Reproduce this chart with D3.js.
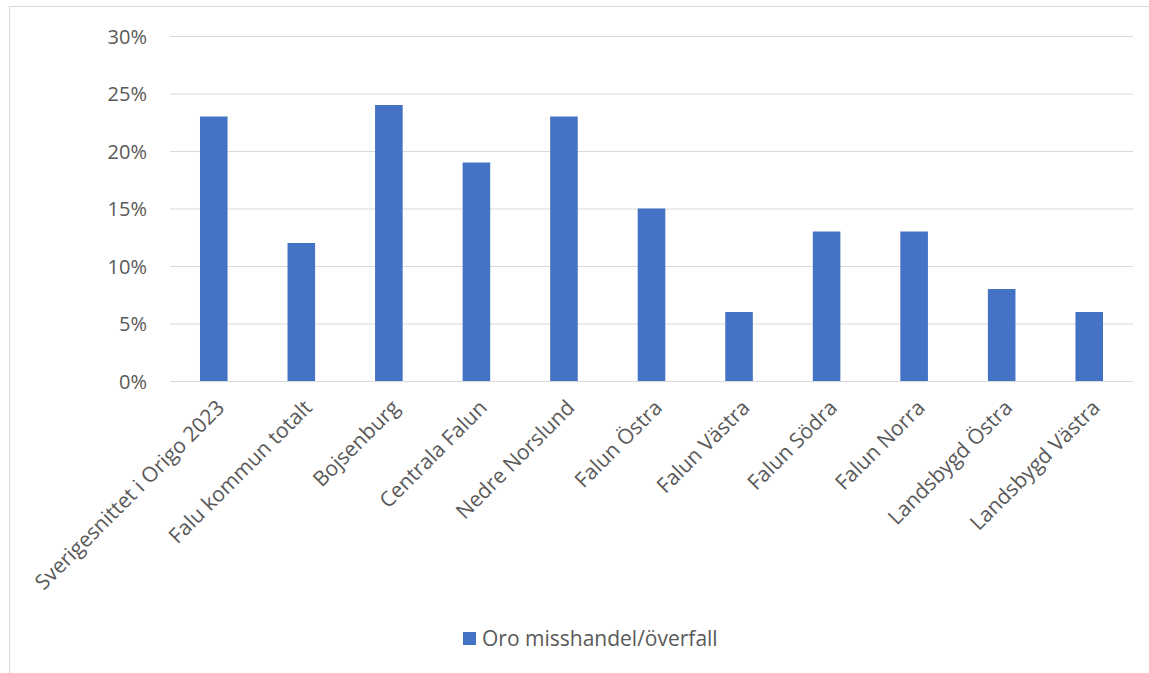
<!DOCTYPE html>
<html><head><meta charset="utf-8">
<script src="https://cdn.jsdelivr.net/npm/d3@7"></script>
<style>html,body{margin:0;padding:0;background:#fff;}svg{display:block;} text{font-family:"Open Sans","Noto Sans",sans-serif;}</style>
</head><body>
<svg id="c" width="1149" height="673"></svg>
<script>
const categories = ["Sverigesnittet i Origo 2023","Falu kommun totalt","Bojsenburg","Centrala Falun","Nedre Norslund","Falun Östra","Falun Västra","Falun Södra","Falun Norra","Landsbygd Östra","Landsbygd Västra"];
const values = [0.23,0.12,0.24,0.19,0.23,0.15,0.06,0.13,0.13,0.08,0.06];
const seriesName = "Oro misshandel/överfall";
const yTicks = [0,0.05,0.10,0.15,0.20,0.25,0.30];

(function(){
const svg = d3.select("#c");
svg.append("rect").attr("x",9.5).attr("y",6.5).attr("width",1160).attr("height",700).attr("fill","#fff").attr("stroke","#d9d9d9").attr("stroke-width",1);

const pl=170, pr=1133, pt=36, pb=381;
const x = d3.scaleBand().domain(categories).range([pl,pr]).paddingInner(0.685).paddingOuter(0.3425);
const y = d3.scaleLinear().domain([0,0.30]).range([pb,pt]);

const yAxis = svg.append("g").attr("transform",`translate(${pl},0)`)
  .call(d3.axisLeft(y).tickValues(yTicks).tickFormat(d3.format(".0%")).tickSize(-(pr-pl)).tickPadding(23));
yAxis.select(".domain").remove();
yAxis.selectAll("line").attr("stroke","#d9d9d9").attr("stroke-width",1);
yAxis.selectAll("text").attr("fill","#595959").style("font-size","20px").attr("dy","0.35em");

svg.append("g").selectAll("rect").data(values).join("rect")
  .attr("x",(d,i)=>x(categories[i])).attr("width",x.bandwidth())
  .attr("y",d=>y(d)).attr("height",d=>y(0)-y(d)).attr("fill","#4472c4");

const xAxis = svg.append("g").attr("transform",`translate(0,${pb})`)
  .call(d3.axisBottom(x).tickSize(0).tickPadding(0));
xAxis.select(".domain").remove();
xAxis.selectAll("text").attr("fill","#595959").style("font-size","21px")
  .attr("text-anchor","end").attr("dy",null).attr("y",0)
  .attr("transform","translate(12,28) rotate(-45)");

const lg = svg.append("g");
lg.append("rect").attr("x",463).attr("y",632).attr("width",13).attr("height",13).attr("fill","#4472c4");
lg.append("text").attr("x",482).attr("y",646).attr("fill","#595959").style("font-size","21px").text(seriesName);
})();
</script>
</body></html>
